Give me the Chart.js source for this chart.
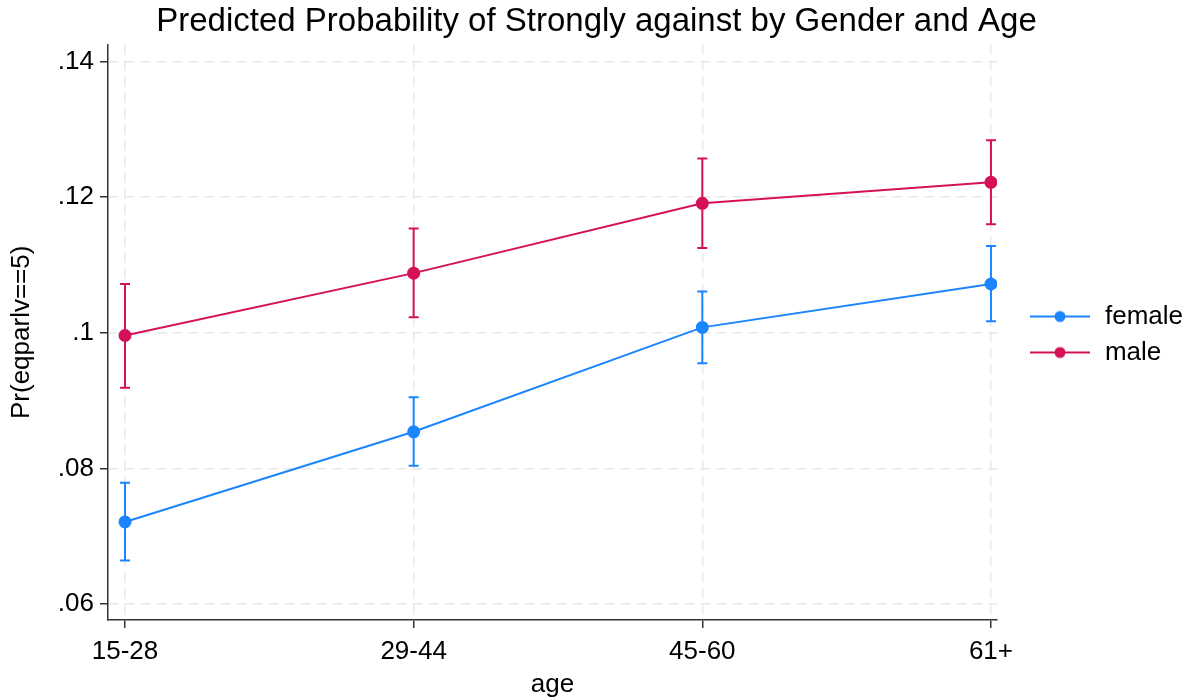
<!DOCTYPE html>
<html>
<head>
<meta charset="utf-8">
<script src="https://cdn.jsdelivr.net/npm/chart.js@4.4.7/dist/chart.umd.min.js"></script>
<style>
    html, body { margin: 0; padding: 0; background: #ffffff; }
    #wrap { width: 1194px; height: 700px; }
</style>
</head>
<body>
<div id="wrap"><canvas id="line_chart"></canvas></div>
<script>
// Chart data.
var ageGroups  = ["15-28", "29-44", "45-60", "61+"];
var yTicks     = [0.06, 0.08, 0.10, 0.12, 0.14];

var femaleProb = [0.0721, 0.0854, 0.1008, 0.1072];
var femaleLow  = [0.0664, 0.0804, 0.0955, 0.1017];
var femaleHigh = [0.0779, 0.0905, 0.1061, 0.1128];

var maleProb   = [0.0996, 0.1088, 0.1191, 0.1222];
var maleLow    = [0.0919, 0.1023, 0.1125, 0.1160];
var maleHigh   = [0.1072, 0.1154, 0.1257, 0.1284];

var FONT = 'Arial, "Liberation Sans", sans-serif';
var BLUE = "#1a85ff";
var RED  = "#d41159";

// Build the {x, y} points for a series.
function toPoints(values) {
    return values.map(function(v, i) { return { x: i, y: v }; });
}

// Legend marker: a short line with a dot in the middle.
function legendMarker(color) {
    var c = document.createElement("canvas");
    c.width = 85;
    c.height = 14;
    var g = c.getContext("2d");
    g.strokeStyle = color;
    g.lineWidth = 2;
    g.beginPath();
    g.moveTo(23, 7);
    g.lineTo(83, 7);
    g.stroke();
    g.fillStyle = color;
    g.beginPath();
    g.arc(53, 7, 5.5, 0, Math.PI * 2);
    g.fill();
    return c;
}

// Draw the confidence interval bars through the chart scales.
var errorBars = {
    id: "errorBars",
    beforeDatasetsDraw: function(chart) {
        var ctx = chart.ctx;
        var xs = chart.scales.x, ys = chart.scales.y;
        chart.data.datasets.forEach(function(ds) {
            ctx.save();
            ctx.strokeStyle = ds.borderColor;
            ctx.lineWidth = 2;
            ds.data.forEach(function(p, i) {
                var x  = xs.getPixelForValue(p.x);
                var y1 = ys.getPixelForValue(ds.low[i]);
                var y2 = ys.getPixelForValue(ds.high[i]);
                ctx.beginPath();
                ctx.moveTo(x, y1); ctx.lineTo(x, y2);
                ctx.moveTo(x - 5, y1); ctx.lineTo(x + 5, y1);
                ctx.moveTo(x - 5, y2); ctx.lineTo(x + 5, y2);
                ctx.stroke();
            });
            ctx.restore();
        });
    }
};

// Center the legend on the plot area instead of the full right column.
var legendShift = {
    id: "legendShift",
    afterLayout: function(chart) {
        if (chart.legend) {
            chart.legend.bottom -= 31;
        }
    }
};

var data = {
    datasets: [
        {
            label: "female",
            data: toPoints(femaleProb),
            low: femaleLow,
            high: femaleHigh,
            borderColor: BLUE,
            backgroundColor: BLUE,
            borderWidth: 2,
            pointStyle: "circle",
            pointRadius: 5.5,
            pointHoverRadius: 5.5
        },
        {
            label: "male",
            data: toPoints(maleProb),
            low: maleLow,
            high: maleHigh,
            borderColor: RED,
            backgroundColor: RED,
            borderWidth: 2,
            pointStyle: "circle",
            pointRadius: 5.5,
            pointHoverRadius: 5.5
        }
    ]
};

var gridOpts = {
    color: "#e8e8e8",
    lineWidth: 1.5,
    tickColor: "#333333",
    tickLength: 8,
    tickWidth: 1.5,
    tickBorderDash: []
};

var options = {
    responsive: true,
    maintainAspectRatio: false,
    animation: false,
    layout: {
        padding: { left: 0, right: 1, top: 0, bottom: 0 }
    },
    scales: {
        x: {
            type: "linear",
            min: -0.0589,
            max: 3.0208,
            afterBuildTicks: function(scale) {
                scale.ticks = ageGroups.map(function(a, i) { return { value: i }; });
            },
            afterFit: function(scale) { scale.height = 80; },
            ticks: {
                color: "#000000",
                padding: 8,
                maxRotation: 0,
                font: { family: FONT, size: 26 },
                callback: function(value) { return ageGroups[value]; }
            },
            grid: gridOpts,
            border: { display: true, color: "#333333", width: 1.5, dash: [10, 6] },
            title: {
                display: true,
                text: "age",
                color: "#000000",
                padding: { top: 2, bottom: 0 },
                font: { family: FONT, size: 26 }
            }
        },
        y: {
            type: "linear",
            min: 0.05764,
            max: 0.14251,
            afterBuildTicks: function(scale) {
                scale.ticks = yTicks.map(function(v) { return { value: v }; });
            },
            afterFit: function(scale) { scale.width = 108; },
            ticks: {
                color: "#000000",
                padding: 6,
                font: { family: FONT, size: 26 },
                // Stata style labels: .06, .08, .1
                callback: function(value) {
                    return String(parseFloat(value.toFixed(2))).replace(/^0/, "");
                }
            },
            grid: gridOpts,
            border: { display: true, color: "#333333", width: 1.5, dash: [10, 6] },
            title: {
                display: true,
                text: "Pr(eqparlv==5)",
                color: "#000000",
                padding: { top: 6, bottom: 0 },
                font: { family: FONT, size: 26 }
            }
        }
    },
    plugins: {
        title: {
            display: true,
            text: "Predicted Probability of Strongly against by Gender and Age",
            color: "#000000",
            padding: { top: 2, bottom: 3 },
            font: { family: FONT, size: 33, weight: "normal" }
        },
        legend: {
            display: true,
            position: "right",
            labels: {
                usePointStyle: true,
                pointStyleWidth: 85,
                boxHeight: 14,
                padding: 10,
                color: "#000000",
                font: { family: FONT, size: 26 },
                // Line-and-dot markers for the legend only.
                generateLabels: function(chart) {
                    var items = Chart.defaults.plugins.legend.labels.generateLabels(chart);
                    items.forEach(function(item) {
                        var ds = chart.data.datasets[item.datasetIndex];
                        item.pointStyle = legendMarker(ds.borderColor);
                    });
                    return items;
                }
            }
        },
        tooltip: { enabled: false }
    }
};

var ctx = document.getElementById("line_chart");
var chart = new Chart(ctx, { type: "line", data: data, options: options, plugins: [errorBars, legendShift] });
</script>
</body>
</html>
